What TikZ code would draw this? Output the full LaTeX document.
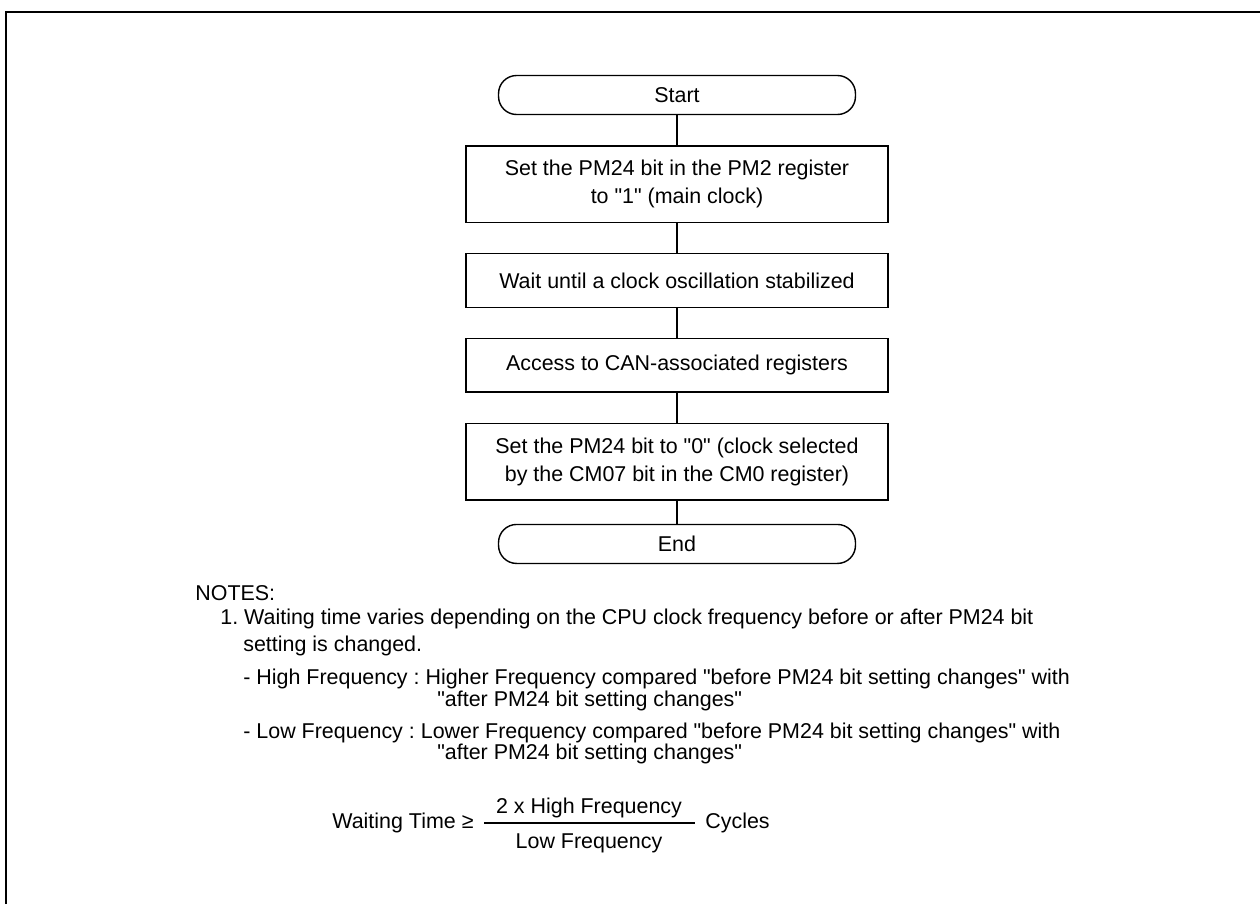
\documentclass[tikz,border=0pt]{standalone}
\usepackage{fontspec}
\setmainfont{Liberation Sans}[Ligatures=TeXOff]
\usetikzlibrary{positioning}
\frenchspacing

\begin{document}
\begin{tikzpicture}[
  x=0.02cm,y=-0.02cm,
  node distance=0.6cm,
  every node/.style={font=\fontsize{12.2}{15.9}\selectfont},
  stepbox/.style={draw,line width=0.8pt,align=center,
              minimum width=8.44cm,minimum height=1.07cm},
  terminal/.style={draw,line width=0.8pt,rounded corners=0.36cm,
              minimum width=7.14cm,minimum height=0.78cm},
  notetext/.style={anchor=base west,inner sep=0pt}
]
\useasboundingbox (0,0) rectangle (1260,904);
\draw[line width=1.2pt] (6,904) -- (6,12) -- (1260,12);

\node[terminal] (start) at (677,95) {Start};
\node[stepbox,minimum height=1.53cm,below=of start] (pmset)
      {Set the PM24 bit in the PM2 register\\to "1" (main clock)};
\node[stepbox,below=of pmset] (waitosc)
      {Wait until a clock oscillation stabilized};
\node[stepbox,below=of waitosc] (canacc)
      {Access to CAN-associated registers};
\node[stepbox,minimum height=1.53cm,below=of canacc] (pmclr)
      {Set the PM24 bit to "0" (clock selected\\by the CM07 bit in the CM0 register)};
\node[terminal,below=0.46cm of pmclr] (finish) {End};
\draw[line width=0.8pt] (start) -- (pmset);
\draw[line width=0.8pt] (pmset) -- (waitosc);
\draw[line width=0.8pt] (waitosc) -- (canacc);
\draw[line width=0.8pt] (canacc) -- (pmclr);
\draw[line width=0.8pt] (pmclr) -- (finish);

\node[notetext] (notes) at (195,600) {NOTES:};
\node[notetext] (note1) at (220,624)
      {1. Waiting time varies depending on the CPU clock frequency before or after PM24 bit};
\node[notetext] (note1b) at (243,651) {setting is changed.};
\node[notetext] (high) at (243,684)
      {- High Frequency : Higher Frequency compared "before PM24 bit setting changes" with};
\node[notetext] (highb) at (437,706) {"after PM24 bit setting changes"};
\node[notetext] (low) at (243,738)
      {- Low Frequency : Lower Frequency compared "before PM24 bit setting changes" with};
\node[notetext] (lowb) at (437,759) {"after PM24 bit setting changes"};

\node[notetext] (waittime) at (332,828) {Waiting Time ≥};
\coordinate (barL) at (484,823);
\coordinate (barR) at (695,823);
\draw[line width=0.8pt] (barL) -- (barR);
\node[anchor=base,inner sep=0pt] (numer) at (589,813) {2 x High Frequency};
\node[anchor=base,inner sep=0pt] (denom) at (589,848) {Low Frequency};
\node[notetext] (cycles) at (705,828) {Cycles};
\end{tikzpicture}
\end{document}
